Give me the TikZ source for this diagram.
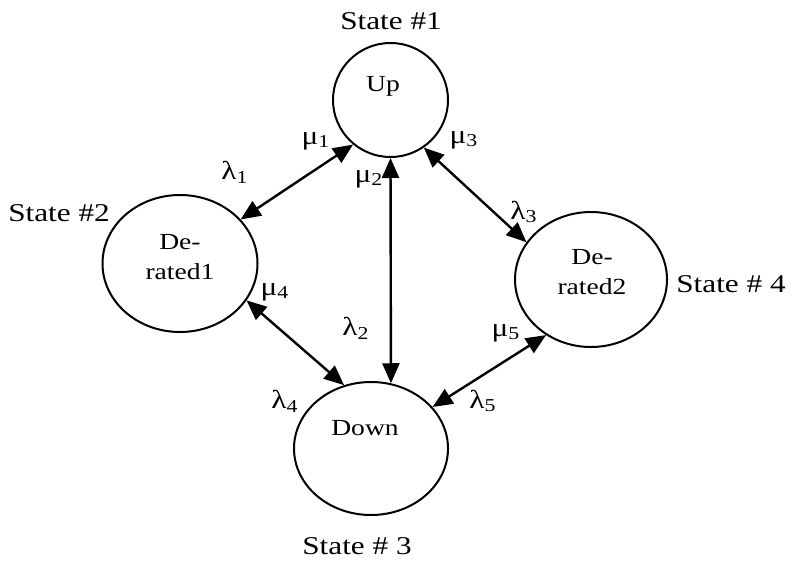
\documentclass[tikz,border=0pt]{standalone}
\usepackage{fontspec}
\setmainfont{Liberation Serif}
\usetikzlibrary{positioning,arrows.meta,shapes.geometric}
\newcommand{\rt}[2]{#1\textsubscript{#2}}

\begin{document}
\begin{tikzpicture}[x=0.5pt,y=-0.5pt,
  state/.style={draw,ellipse,line width=1pt,inner sep=0pt},
  txt/.style={font=\fontsize{11.5}{15}\selectfont,xscale=1.2,align=center,inner sep=0pt},
  tag/.style={font=\fontsize{12.8}{15}\selectfont,xscale=1.22,inner sep=0pt},
  rate/.style={font=\fontsize{13}{15}\selectfont,xscale=1.2,inner sep=0pt},
  flow/.style={{Triangle[length=10pt,width=8.5pt]}-{Triangle[length=10pt,width=8.5pt]},line width=1.2pt}]
\useasboundingbox (0,0) rectangle (791,562);
% states
\node[state,minimum width=57.5pt,minimum height=57pt] (up) at (390.5,100) {};
\node[state,minimum width=77.5pt,minimum height=68.5pt] (der1) at (180,263.5) {};
\node[state,minimum width=76pt,minimum height=67.5pt] (der2) at (591,279.5) {};
\node[state,minimum width=77pt,minimum height=66.5pt] (down) at (371,448.5) {};
\node[txt] (uptxt) at (383,86) {Up};
\node[txt] (der1txt) at (180,257) {De-\\rated1};
\node[txt] (der2txt) at (592,272) {De-\\rated2};
\node[txt] (downtxt) at (365,428.5) {Down};
\node[tag] (s1) at (391,21.5) {State \#1};
\node[tag] (s2) at (59,213.5) {State \#2};
\node[tag] (s3) at (357,546) {State \# 3};
\node[tag] (s4) at (731,284) {State \# 4};
% transitions
\draw[flow] (der1.36) -- (up.230);
\draw[flow] (up.270) -- (down.73);
\draw[flow] (up.305) -- (der2.150);
\draw[flow] (der1.331) -- (down.113);
\draw[flow] (der2.231) -- (down.34);
\node[rate] (m1) at (316,141) {\rt{μ}{1}};
\node[rate] (l1) at (235,172) {\rt{λ}{1}};
\node[rate] (m2) at (369,179) {\rt{μ}{2}};
\node[rate] (l2) at (356,328) {\rt{λ}{2}};
\node[rate] (m3) at (464,140) {\rt{μ}{3}};
\node[rate] (l3) at (524,212) {\rt{λ}{3}};
\node[rate] (m4) at (275,292) {\rt{μ}{4}};
\node[rate] (l4) at (285,401) {\rt{λ}{4}};
\node[rate] (m5) at (506,333) {\rt{μ}{5}};
\node[rate] (l5) at (483,401) {\rt{λ}{5}};
\end{tikzpicture}
\end{document}
